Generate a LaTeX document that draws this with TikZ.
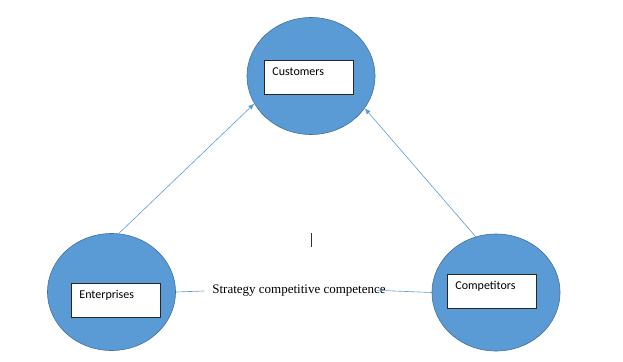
\documentclass[tikz,border=0pt]{standalone}
\usepackage{fontspec}
\setmainfont{Liberation Serif}
\newfontfamily\boxfont{Carlito}
\usetikzlibrary{positioning,arrows.meta,shapes.geometric}
\definecolor{discblue}{HTML}{5B9BD5}
\definecolor{discedge}{HTML}{41719C}
\tikzset{
  linkarrow/.style={-{Latex[length=6pt,width=5pt]}, discblue, line width=0.6pt},
  linkline/.style={discblue, line width=0.6pt},
  partydisc/.style={draw=discedge, fill=discblue, ellipse, line width=0.6pt, minimum width=128pt, minimum height=117pt, inner sep=0pt},
  namebox/.style={draw=black!85, fill=white, line width=0.8pt, anchor=north west, inner xsep=8pt, inner ysep=0pt, text width=73pt, text height=15pt, text depth=19pt, align=left, font=\boxfont\fontsize{12pt}{14pt}\selectfont},
  linklabel/.style={font=\fontsize{13pt}{15pt}\selectfont, inner xsep=8pt, inner ysep=2pt}
}
\begin{document}
\begin{tikzpicture}[x=1pt, y=-1pt]
      \useasboundingbox (0,0) rectangle (623,361);
      \node[partydisc] (cust) at (311,76) {};
      \node[partydisc] (ent) at (111.5,292) {};
      \node[partydisc] (comp) at (496,292.5) {};
      \node[namebox] (custbox) at (264,60) {Customers};
      \node[namebox] (entbox) at (71,283) {Enterprises};
      \node[namebox] (compbox) at (447,274) {Competitors};
      \node[linklabel] (strat) at (299,291) {Strategy competitive competence};
      \draw[linkarrow] (ent.83) -- (cust.206);
      \draw[linkarrow] (comp.110) -- (cust.329);
      \draw[linkline] (ent.east) -- (strat.west);
      \draw[linkline, shorten <=-17pt] (strat.east) -- (comp.west);
      % stray cursor mark
      \draw[black!80, line width=0.8pt] (311,233) -- (311,247);
    \end{tikzpicture}
\end{document}
